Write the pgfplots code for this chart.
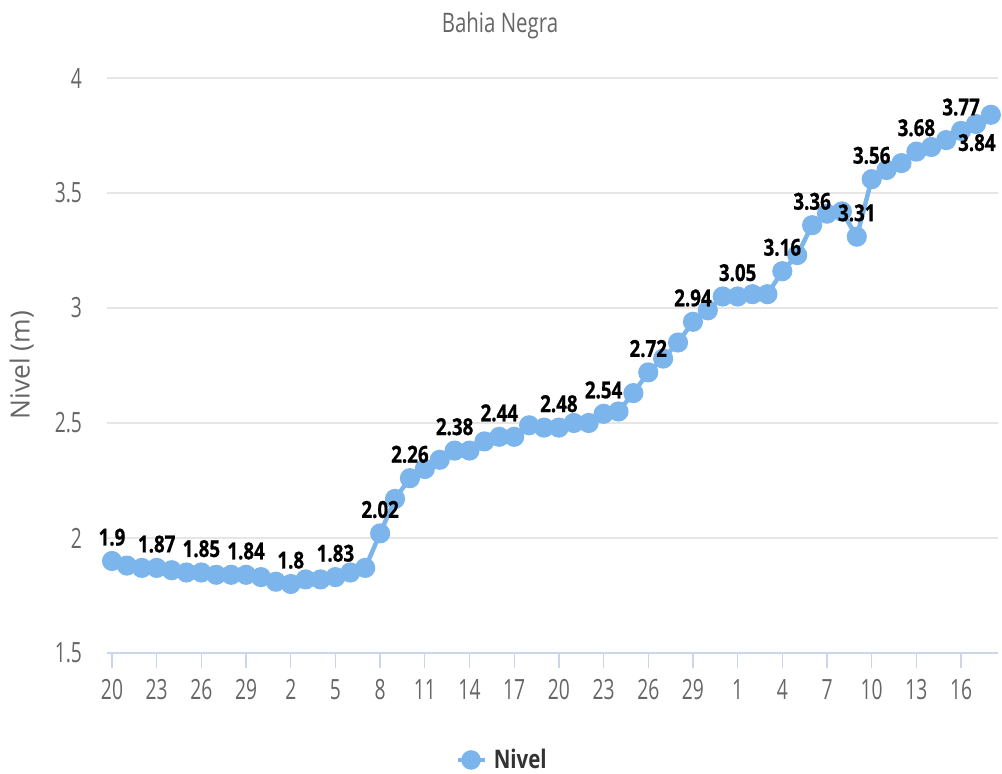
\documentclass[border=0pt]{standalone}
\usepackage{pgfplots}
\pgfplotsset{compat=1.18}
\usepackage{pgfplotstable}
\usepackage{fontspec}
\setmainfont{Open Sans}[FakeStretch=0.8]
\newfontfamily\plainfont{Open Sans}
\newfontfamily\tickfont{Open Sans}[FakeStretch=0.69]
\newfontfamily\labfont{Open Sans}[FakeStretch=0.8, BoldFeatures={FakeBold=0.8}]
\newfontfamily\titlefont{Open Sans}[FakeStretch=0.76]
\newfontfamily\legfont{Open Sans}[FakeStretch=0.8]

\definecolor{hcblue}{HTML}{7CB5EC}
\definecolor{ticktext}{HTML}{666666}
\definecolor{axisline}{HTML}{CCD6EB}
\definecolor{gridc}{HTML}{E6E6E6}
\definecolor{darktext}{HTML}{333333}

\pgfplotstableread{
x y
0 1.90
1 1.88
2 1.87
3 1.87
4 1.86
5 1.85
6 1.85
7 1.84
8 1.84
9 1.84
10 1.83
11 1.81
12 1.80
13 1.82
14 1.82
15 1.83
16 1.85
17 1.87
18 2.02
19 2.17
20 2.26
21 2.30
22 2.34
23 2.38
24 2.38
25 2.42
26 2.44
27 2.44
28 2.49
29 2.48
30 2.48
31 2.50
32 2.50
33 2.54
34 2.55
35 2.63
36 2.72
37 2.78
38 2.85
39 2.94
40 2.99
41 3.05
42 3.05
43 3.06
44 3.06
45 3.16
46 3.23
47 3.36
48 3.41
49 3.42
50 3.31
51 3.56
52 3.60
53 3.63
54 3.68
55 3.70
56 3.73
57 3.77
58 3.80
59 3.84
}\niveldata

\pgfplotstableread{
x lab
0 1.9
3 1.87
6 1.85
9 1.84
12 1.8
15 1.83
18 2.02
20 2.26
23 2.38
26 2.44
30 2.48
33 2.54
36 2.72
39 2.94
42 3.05
45 3.16
47 3.36
50 3.31
51 3.56
54 3.68
57 3.77
}\labeldata

\pgfplotstableread{
x lab
59 3.84
}\lastlabel

\begin{document}
\begin{tikzpicture}
\path[use as bounding box] (-106.7bp,-121bp) rectangle (895.3bp,653bp);
\begin{axis}[
  scale only axis, width=891.3bp, height=575bp,
  xmin=-0.356, xmax=59.48, ymin=1.5, ymax=4,
  axis x line*=bottom, axis y line*=left,
  x axis line style={draw=axisline, line width=1.3bp},
  y axis line style={draw=none},
  xtick={0,3,...,57},
  xticklabels={20,23,26,29,2,5,8,11,14,17,20,23,26,29,1,4,7,10,13,16},
  ytick={1.5,2,2.5,3,3.5,4},
  yticklabels={1.5,2,2.5,3,3.5,4},
  tick align=outside,
  major tick length=15bp,
  xtick style={draw=axisline, line width=1.3bp},
  ytick style={draw=none},
  ymajorgrids, major grid style={draw=gridc, line width=1.3bp},
  ticklabel style={font=\tickfont\fontsize{28}{31}\selectfont, text=ticktext, inner sep=0pt},
  xticklabel style={anchor=north},
  yticklabel style={anchor=east},
  xticklabel shift=11bp, yticklabel shift=9.5bp,
  clip=false,
  legend style={at={(axis description cs:0.4435,-0.186)}, anchor=center, draw=none, fill=none,
    font=\legfont\fontsize{25.7}{28}\selectfont\bfseries, text=darktext, inner sep=0pt,
    /tikz/every odd column/.append style={column sep=5bp}},
  legend image code/.code={\draw[hcblue, line width=4.5bp] (0bp,0bp) -- (27bp,0bp);
     \fill[hcblue] (13.5bp,0bp) circle (7.5bp);},
]
\addplot[hcblue, line width=4.5bp, mark=*, mark size=7.8bp,
  mark options={fill=hcblue, draw=none}] table[x=x,y=y] {\niveldata};
\addlegendentry{Nivel}
\addplot[draw=none, forget plot, nodes near coords, point meta=explicit symbolic,
  every node near coord/.append style={anchor=south, inner sep=0pt, yshift=15bp,
  font=\labfont\fontsize{23.5}{26}\selectfont\bfseries, text=black}]
  table[x=x,y=lab,meta=lab] {\labeldata};
\addplot[draw=none, forget plot, nodes near coords, point meta=explicit symbolic,
  every node near coord/.append style={anchor=north, inner sep=0pt, yshift=-19bp, xshift=-14bp,
  font=\labfont\fontsize{23.5}{26}\selectfont\bfseries, text=black}]
  table[x=x,y=lab,meta=lab] {\lastlabel};
\end{axis}
\node[anchor=base, text=ticktext, font=\titlefont\fontsize{27}{30}\selectfont] at (393.3bp,620bp) {Bahia Negra};
\node[rotate=90, text=ticktext, inner sep=0pt, font=\plainfont\fontsize{26.5}{30}\selectfont] at (-85bp,288bp) {Nivel (m)};
\end{tikzpicture}
\end{document}
